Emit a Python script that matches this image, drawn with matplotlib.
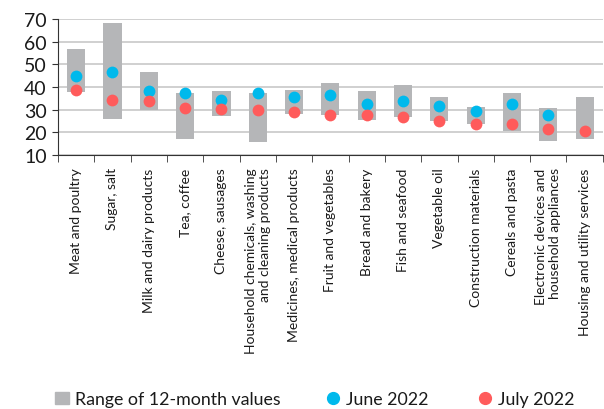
import matplotlib.pyplot as plt
import numpy as np
from matplotlib.lines import Line2D
from matplotlib.patches import Patch

plt.rcParams['font.family'] = ['Lato', 'DejaVu Sans']

categories = ['Meat and poultry', 'Sugar, salt', 'Milk and dairy products', 'Tea, coffee',
              'Cheese, sausages', 'Household chemicals, washing\nand cleaning products',
              'Medicines, medical products', 'Fruit and vegetables', 'Bread and bakery',
              'Fish and seafood', 'Vegetable oil', 'Construction materials',
              'Cereals and pasta', 'Electronic devices and\nhousehold appliances',
              'Housing and utility services']
range_low = [37.7, 25.9, 29.9, 17.1, 27.1, 15.6, 28.1, 27.7, 25.6, 26.9, 25.0, 23.8, 20.5, 15.9, 16.8]
range_high = [56.8, 68.2, 46.8, 37.2, 38.1, 37.2, 38.7, 41.6, 38.4, 40.7, 35.6, 31.3, 37.4, 30.9, 35.5]
june = [44.7, 46.6, 38.1, 37.2, 34.1, 37.2, 35.7, 36.6, 32.4, 33.7, 31.6, 29.3, 32.4, 27.5, np.nan]
july = [38.8, 34.3, 33.7, 30.9, 30.3, 29.7, 29.1, 27.5, 27.5, 26.9, 25.1, 23.8, 23.4, 21.2, 20.5]

grey = '#b5b6b8'
blue = '#00b9ec'
red = '#ff5b5b'

fig = plt.figure(figsize=(6.04, 4.10), dpi=100)
ax = fig.add_axes([0.096, 0.62, 0.902, 0.331])

x = np.arange(len(categories))
lo = np.array(range_low)
hi = np.array(range_high)
ax.bar(x, hi - lo, bottom=lo, width=0.5, color=grey, zorder=2)
ax.scatter(x, june, s=72, color=blue, zorder=3, linewidths=0)
ax.scatter(x, july, s=72, color=red, zorder=4, linewidths=0)

ax.set_xlim(-0.5, len(categories) - 0.5)
ax.set_ylim(10, 70)
ax.set_yticks(range(10, 71, 10))
ax.yaxis.grid(True, color='#c8c8c8', linewidth=1.2, zorder=0)
ax.set_axisbelow(True)
for s in ['top', 'right']:
    ax.spines[s].set_visible(False)
ax.spines['left'].set_color('#333333')
ax.spines['bottom'].set_color('#333333')

ax.set_xticks(x)
ax.set_xticklabels(categories, rotation=90, fontsize=10, color='#1a1a1a',
                   multialignment='right')
ax.tick_params(axis='x', length=0, pad=9)
ax.set_xticks(np.arange(-0.5, len(categories), 1), minor=True)
ax.tick_params(axis='x', which='minor', length=5, direction='out', color='#333333')
ax.tick_params(axis='y', labelsize=14, length=4, color='#333333', labelcolor='#1a1a1a', pad=4)

# legend, one entry at a time so each sits where it does in the original
entries = [(Patch(color=grey), 'Range of 12-month values', 55),
           (Line2D([], [], marker='o', linestyle='none', color=blue, markersize=8.5), 'June 2022', 326),
           (Line2D([], [], marker='o', linestyle='none', color=red, markersize=8.5), 'July 2022', 478)]
for h, lab, px in entries:
    fig.legend([h], [lab], loc='center left', bbox_to_anchor=(px / 604, 1 - 400 / 410),
               frameon=False, fontsize=12.8, handlelength=0.8, handletextpad=0.3,
               borderpad=0, borderaxespad=0, labelcolor='#1a1a1a')

fig.savefig('out.png', dpi=100)
